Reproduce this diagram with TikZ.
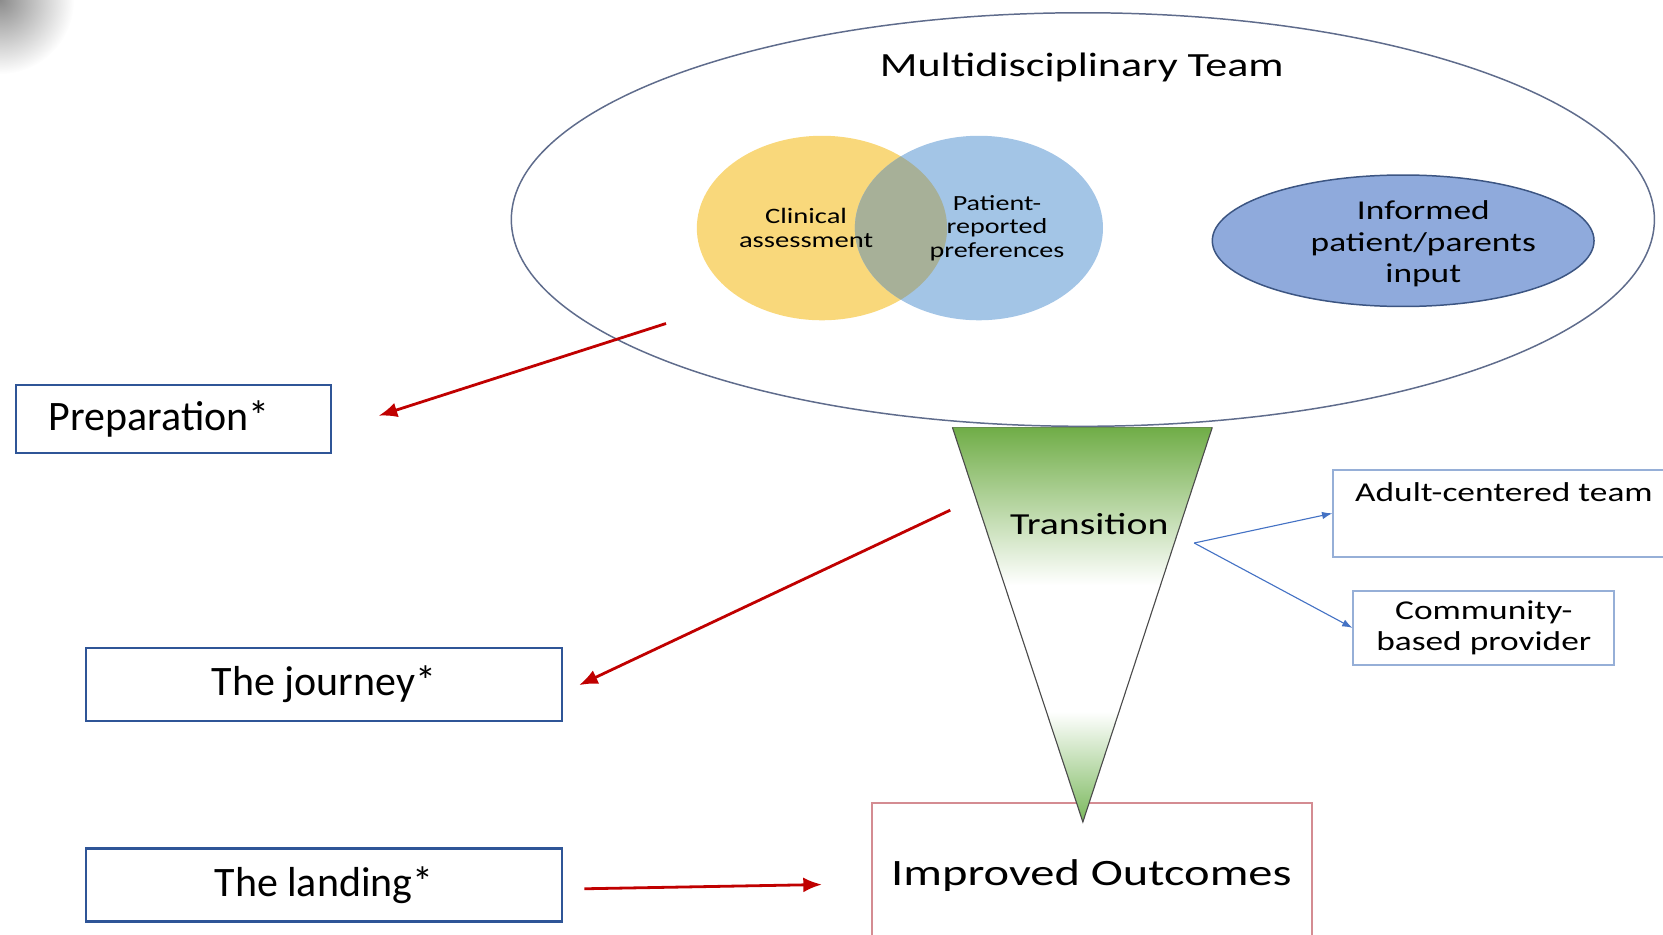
\documentclass[tikz,border=0pt]{standalone}
\usepackage{fontspec}
\setmainfont{Carlito}
\newfontfamily\widefont[FakeStretch=1.3]{Carlito}
\usepackage{tikz}
\usetikzlibrary{shapes, arrows.meta}

\definecolor{teamline}{RGB}{95,108,140}
\definecolor{clinfill}{RGB}{249,216,123}
\definecolor{prefill}{RGB}{163,197,230}
\definecolor{overlapfill}{RGB}{167,176,152}
\definecolor{inffill}{RGB}{143,170,220}
\definecolor{infline}{RGB}{60,85,130}
\definecolor{trgreen}{RGB}{112,173,71}
\definecolor{trgreenlow}{RGB}{122,184,92}
\definecolor{sideline}{RGB}{150,175,215}
\definecolor{sidearrow}{RGB}{68,114,196}
\definecolor{outline}{RGB}{212,140,146}
\definecolor{stageline}{RGB}{47,85,151}
\definecolor{stagearrow}{RGB}{192,0,0}

\pgfdeclareverticalshading{funnel}{100bp}{color(0bp)=(trgreenlow); color(25bp)=(trgreenlow); color(39bp)=(white); color(55bp)=(white); color(75bp)=(trgreen); color(100bp)=(trgreen)}

\tikzstyle{line} = [draw=stagearrow, line width=1.5pt, -{Latex[length=10pt, width=8pt]}]
\tikzstyle{branch} = [draw=sidearrow, line width=0.6pt, -{Latex[length=5.5pt, width=4pt]}]
\tikzstyle{stage} = [draw=stageline, line width=1.4pt, inner sep=0pt, font=\fontsize{22.5}{27}\selectfont]
\tikzstyle{side} = [draw=sideline, line width=1pt, inner sep=0pt]
\tikzstyle{sidetext} = [font=\widefont\fontsize{14.6}{16.5}\selectfont, align=center]
\tikzstyle{venn} = [align=center, inner sep=0pt]

\begin{document}
\begin{tikzpicture}[x=0.02cm, y=-0.02cm]
\useasboundingbox (0,0) rectangle (1568,881);

%Corner shadow
\begin{scope}
\clip (0,0) rectangle (100,100);
\shade[inner color=black!45, outer color=white] (0,0) circle [radius=1.4cm];
\end{scope}

%Team
\node[ellipse, draw=teamline, line width=0.8pt, minimum width=21.56cm, minimum height=7.8cm] (team) at (1021,207) {};
\node[font=\widefont\fontsize{18.2}{22}\selectfont] (teamlabel) at (1020,64) {Multidisciplinary Team};

%Venn
\fill[clinfill] (775,215) ellipse [x radius=2.36cm, y radius=1.74cm];
\fill[prefill] (923,215) ellipse [x radius=2.34cm, y radius=1.74cm];
\begin{scope}
\clip (775,215) ellipse [x radius=2.36cm, y radius=1.74cm];
\fill[overlapfill] (923,215) ellipse [x radius=2.34cm, y radius=1.74cm];
\end{scope}
\node[venn, font=\widefont\fontsize{11.8}{13.1}\selectfont] (clinical) at (760,215) {Clinical\\assessment};
\node[venn, font=\widefont\fontsize{11.6}{12.5}\selectfont] (patient) at (940,215) {Patient-\\reported\\preferences};

%Informed input
\node[ellipse, draw=infline, fill=inffill, line width=0.8pt, minimum width=7.2cm, minimum height=2.48cm] (informed) at (1323,227) {};
\node[align=center, inner sep=0pt, font=\widefont\fontsize{14.6}{17}\selectfont] (informedlabel) at (1342,230) {Informed\\patient/parents\\input};

%Outcome box
\node[draw=outline, line width=1pt, minimum width=8.3cm, minimum height=3.86cm] (outcome) at (1029.5,853.5) {};
\node[font=\widefont\fontsize{20}{24}\selectfont] (outcomelabel) at (1029,826) {Improved Outcomes};

%Transition funnel
\coordinate (funnelL) at (898,403);
\coordinate (funnelR) at (1143,403);
\coordinate (funnelTip) at (1021,775);
\fill[shading=funnel] (funnelL) -- (funnelR) -- (funnelTip) -- cycle;
\draw[black!70, line width=0.6pt] (funnelL) -- (funnelTip) -- (funnelR);
\node[font=\widefont\fontsize{16.4}{20}\selectfont] (transition) at (1027,494) {Transition};

%Receiving sides
\node[side, minimum width=8.66cm, minimum height=1.64cm] (adult) at (1473.5,484) {};
\node[sidetext] (adultlabel) at (1418,464) {Adult-centered team};
\node[side, sidetext, minimum width=4.92cm, minimum height=1.4cm] (community) at (1399,592) {Community-\\based provider};

\coordinate (branchpt) at (1126,512);
\draw[branch] (branchpt) -- (adult.west);
\draw[branch] (branchpt) -- (community.west);

%Stages
\node[stage, minimum width=5.94cm, minimum height=1.28cm] (prep) at (163.5,395) {};
\node[font=\fontsize{22.5}{27}\selectfont] (preplabel) at (150,395) {Preparation*};
\node[stage, minimum width=8.98cm, minimum height=1.38cm] (journey) at (305.5,645.5) {The journey*};
\node[stage, minimum width=8.98cm, minimum height=1.38cm] (landing) at (305.5,834.5) {The landing*};

%Stage arrows
\coordinate (prepfrom) at (628,305);
\coordinate (prepto) at (357,392);
\coordinate (journeyfrom) at (896,481);
\coordinate (journeyto) at (546,646);
\coordinate (landingfrom) at (551,838);
\coordinate (landingto) at (775,834);
\draw[line] (prepfrom) -- (prepto);
\draw[line] (journeyfrom) -- (journeyto);
\draw[line] (landingfrom) -- (landingto);

\end{tikzpicture}
\end{document}
